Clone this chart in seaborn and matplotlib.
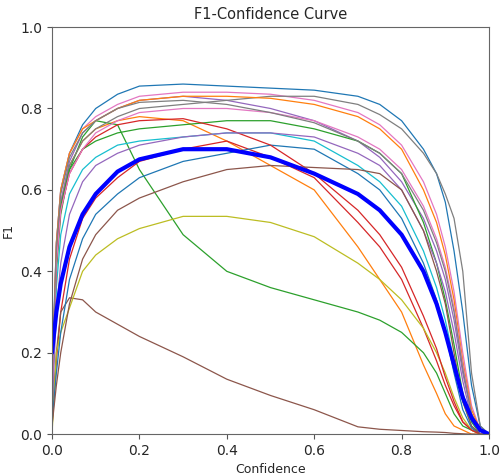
"""
F1-Confidence curve (per class + mean over all classes)
"""

import numpy as np
import pandas as pd
import matplotlib
matplotlib.use('Agg')
import matplotlib.pyplot as plt
import seaborn as sns

# confidence thresholds at which the curves were read
CONF = [0.0, 0.01, 0.02, 0.04, 0.07, 0.1, 0.15, 0.2, 0.3, 0.4, 0.5, 0.6,
        0.7, 0.75, 0.8, 0.85, 0.88, 0.9, 0.92, 0.94, 0.96, 0.98, 1.0]

# per-class F1 values
class_00 = [0.15, 0.47, 0.60, 0.69, 0.76, 0.80, 0.835, 0.855, 0.86, 0.855, 0.85, 0.845, 0.83, 0.81, 0.77, 0.70, 0.64, 0.57, 0.45, 0.30, 0.12, 0.02, 0.0]
class_01 = [0.10, 0.44, 0.57, 0.66, 0.72, 0.75, 0.77, 0.78, 0.77, 0.72, 0.66, 0.60, 0.46, 0.38, 0.30, 0.17, 0.10, 0.05, 0.02, 0.01, 0.0, 0.0, 0.0]
class_02 = [0.05, 0.40, 0.54, 0.65, 0.73, 0.77, 0.76, 0.65, 0.49, 0.40, 0.36, 0.33, 0.30, 0.28, 0.25, 0.20, 0.15, 0.10, 0.05, 0.02, 0.01, 0.0, 0.0]
class_03 = [0.02, 0.18, 0.30, 0.43, 0.53, 0.58, 0.63, 0.67, 0.70, 0.72, 0.68, 0.63, 0.52, 0.46, 0.38, 0.26, 0.18, 0.12, 0.07, 0.03, 0.01, 0.0, 0.0]
class_04 = [0.12, 0.44, 0.57, 0.67, 0.74, 0.77, 0.80, 0.82, 0.83, 0.82, 0.80, 0.77, 0.72, 0.68, 0.62, 0.53, 0.45, 0.38, 0.28, 0.15, 0.05, 0.01, 0.0]
class_05 = [0.03, 0.20, 0.30, 0.335, 0.33, 0.30, 0.27, 0.24, 0.19, 0.135, 0.095, 0.06, 0.018, 0.012, 0.009, 0.006, 0.005, 0.004, 0.002, 0.001, 0.0, 0.0, 0.0]
class_06 = [0.12, 0.47, 0.60, 0.69, 0.75, 0.78, 0.81, 0.83, 0.84, 0.84, 0.835, 0.82, 0.79, 0.76, 0.71, 0.62, 0.54, 0.46, 0.35, 0.20, 0.07, 0.01, 0.0]
class_07 = [0.10, 0.42, 0.56, 0.66, 0.72, 0.75, 0.78, 0.80, 0.81, 0.82, 0.83, 0.83, 0.81, 0.785, 0.75, 0.69, 0.64, 0.59, 0.53, 0.40, 0.15, 0.02, 0.0]
class_08 = [0.0, 0.20, 0.25, 0.31, 0.40, 0.44, 0.48, 0.505, 0.535, 0.535, 0.52, 0.485, 0.42, 0.38, 0.33, 0.26, 0.20, 0.15, 0.09, 0.04, 0.01, 0.0, 0.0]
class_09 = [0.08, 0.36, 0.49, 0.59, 0.65, 0.68, 0.71, 0.72, 0.73, 0.74, 0.74, 0.72, 0.66, 0.62, 0.56, 0.45, 0.36, 0.28, 0.18, 0.08, 0.02, 0.0, 0.0]
class_10 = [0.03, 0.15, 0.25, 0.38, 0.48, 0.54, 0.59, 0.63, 0.67, 0.69, 0.71, 0.70, 0.64, 0.60, 0.53, 0.42, 0.33, 0.25, 0.15, 0.06, 0.015, 0.0, 0.0]
class_11 = [0.12, 0.47, 0.60, 0.69, 0.75, 0.77, 0.80, 0.82, 0.83, 0.83, 0.825, 0.81, 0.78, 0.75, 0.70, 0.60, 0.52, 0.44, 0.33, 0.18, 0.06, 0.01, 0.0]
class_12 = [0.10, 0.43, 0.56, 0.65, 0.70, 0.72, 0.74, 0.75, 0.76, 0.77, 0.77, 0.75, 0.72, 0.69, 0.64, 0.52, 0.42, 0.33, 0.22, 0.10, 0.03, 0.0, 0.0]
class_13 = [0.08, 0.42, 0.55, 0.64, 0.70, 0.73, 0.76, 0.77, 0.775, 0.75, 0.71, 0.64, 0.55, 0.49, 0.41, 0.29, 0.21, 0.14, 0.08, 0.03, 0.01, 0.0, 0.0]
class_14 = [0.06, 0.30, 0.42, 0.54, 0.62, 0.66, 0.69, 0.71, 0.73, 0.74, 0.74, 0.73, 0.69, 0.66, 0.60, 0.50, 0.42, 0.35, 0.25, 0.13, 0.04, 0.0, 0.0]
class_15 = [0.02, 0.12, 0.20, 0.32, 0.43, 0.49, 0.55, 0.58, 0.62, 0.65, 0.66, 0.655, 0.65, 0.64, 0.60, 0.50, 0.40, 0.32, 0.20, 0.08, 0.02, 0.0, 0.0]
class_16 = [0.10, 0.42, 0.55, 0.64, 0.70, 0.74, 0.77, 0.79, 0.80, 0.80, 0.79, 0.77, 0.73, 0.70, 0.65, 0.56, 0.48, 0.41, 0.31, 0.17, 0.05, 0.01, 0.0]
class_17 = [0.12, 0.46, 0.59, 0.68, 0.74, 0.77, 0.80, 0.815, 0.82, 0.81, 0.79, 0.765, 0.72, 0.69, 0.64, 0.55, 0.47, 0.40, 0.30, 0.16, 0.05, 0.01, 0.0]

# mean over all classes (thick blue line)
all_classes = [0.20, 0.30, 0.37, 0.46, 0.54, 0.59, 0.645, 0.675, 0.70, 0.70, 0.68, 0.64, 0.59, 0.55, 0.49, 0.40, 0.32, 0.25, 0.17, 0.09, 0.04, 0.01, 0.0]

CLASSES = [class_00, class_01, class_02, class_03, class_04, class_05,
           class_06, class_07, class_08, class_09, class_10, class_11,
           class_12, class_13, class_14, class_15, class_16, class_17]


def main():
    sns.set_style('ticks')

    rows = []
    for i, vals in enumerate(CLASSES):
        for c, f in zip(CONF, vals):
            rows.append({'cls': i, 'conf': c, 'f1': f})
    df = pd.DataFrame(rows)

    tab10 = sns.color_palette('tab10')
    palette = [tab10[i % 10] for i in range(len(CLASSES))]

    fig = plt.figure(figsize=(5, 4.75), dpi=100)
    ax = fig.add_axes([0.104, 0.086, 0.874, 0.857])

    sns.lineplot(data=df, x='conf', y='f1', hue='cls', palette=palette,
                 linewidth=0.9, legend=False, ax=ax, sort=False)
    sns.lineplot(x=CONF, y=all_classes, color='blue', linewidth=3, ax=ax, sort=False)

    ax.set_xlim(0, 1)
    ax.set_ylim(0, 1)
    ax.set_xlabel('Confidence', fontsize=9)
    ax.set_ylabel('F1', fontsize=9)
    ax.set_title('F1-Confidence Curve', fontsize=10.5)
    ax.tick_params(labelsize=10, color='#555555')
    for s in ax.spines.values():
        s.set_color('#666666')

    fig.savefig('out.png', dpi=100)
    plt.close(fig)


if __name__ == '__main__':
    main()
